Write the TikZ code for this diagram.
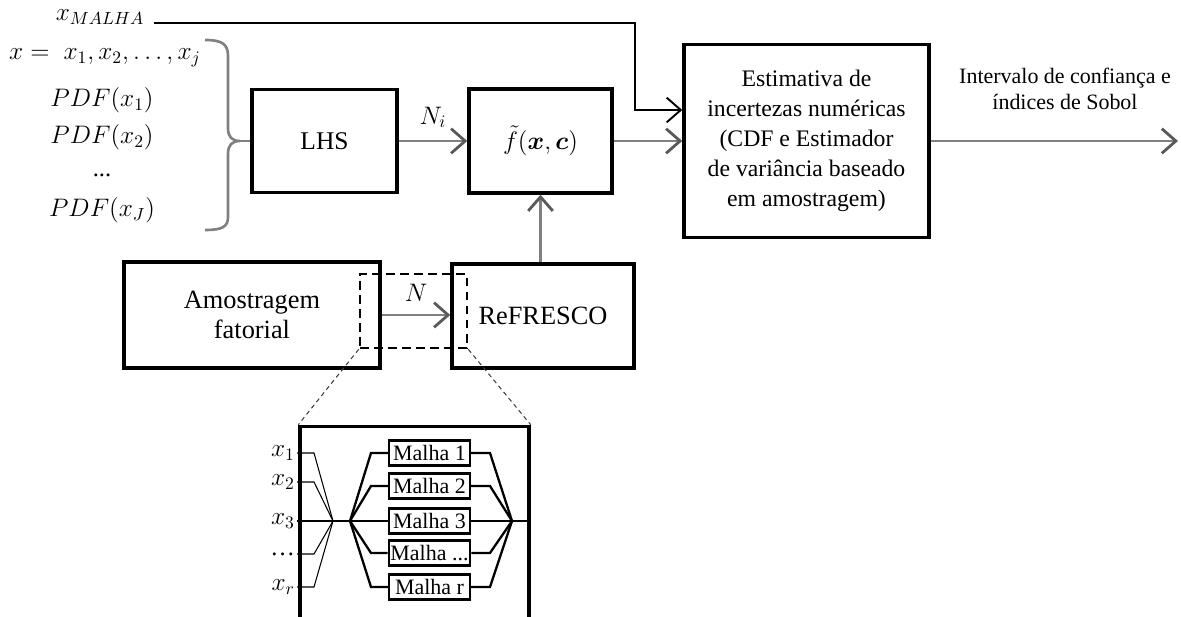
\documentclass[tikz,border=0pt]{standalone}
\usepackage{amsmath}
\usepackage{fontspec}
\setmainfont{Liberation Serif}
\usetikzlibrary{arrows.meta}

\begin{document}
\begin{tikzpicture}[x=0.02cm, y=-0.02cm,
    bloco/.style={draw, line width=2pt, align=center, inner sep=2pt,
      font=\fontsize{14.5}{17}\selectfont},
    texto/.style={font=\fontsize{14}{17}\selectfont, inner sep=1pt},
    seta/.style={draw=gray, line width=1.5pt,
      -{Straight Barb[length=8pt, width=14pt, line width=1.6pt, color=black!65]}},
    setapreta/.style={draw, line width=0.9pt,
      -{Straight Barb[length=8pt, width=14pt, line width=1.1pt]}},
    malha/.style={draw, line width=1.3pt, minimum width=1.62cm, minimum height=0.5cm,
      inner sep=1pt, font=\fontsize{12.5}{13}\selectfont},
    fio/.style={line width=1.3pt},
    fiofino/.style={line width=0.6pt},
  ]
  \useasboundingbox (0,0) rectangle (1181,617);

  % Entradas
  \node[texto] (xmalha) at (100,17) {$x_{MALHA}$};
  \node[texto] (xvec) at (105,58) {$x =\; x_1, x_2, \ldots, x_j$};
  \node[texto] (pdf1) at (102,100) {$PDF(x_1)$};
  \node[texto] (pdf2) at (102,137) {$PDF(x_2)$};
  \node[texto] (pdfdots) at (102,175) {...};
  \node[texto] (pdfJ) at (102,210) {$PDF(x_J)$};

  % Chave
  \coordinate (ponta) at (240,141);
  \draw[gray, line width=1.5pt] (205,40) .. controls (222,40) and (228,44) .. (228,56)
    -- (228,128) .. controls (228,137) and (232,141) .. (ponta)
    .. controls (232,141) and (228,145) .. (228,154)
    -- (228,217) .. controls (228,227) and (222,230) .. (205,230);

  % Blocos
  \node[bloco, minimum width=2.9cm, minimum height=2.06cm] (lhs) at (324.5,141) {LHS};
  \node[bloco, minimum width=2.86cm, minimum height=2.08cm, font=\fontsize{15}{17}\selectfont]
    (modelo) at (540.5,141) {$\tilde{f}(\boldsymbol{x},\boldsymbol{c})$};
  \node[bloco, minimum width=4.9cm, minimum height=3.86cm, font=\fontsize{13.5}{17}\selectfont]
    (estim) at (806.5,141)
    {Estimativa de\\incertezas numéricas\\(CDF e Estimador\\de variância baseado\\em amostragem)};
  \node[bloco, minimum width=5.12cm, minimum height=2.12cm, font=\fontsize{15}{17}\selectfont]
    (amost) at (252,315) {Amostragem\\fatorial};
  \node[bloco, minimum width=3.64cm, minimum height=2.08cm, font=\fontsize{15}{17}\selectfont]
    (refresco) at (543,316) {ReFRESCO};
  \node[align=center, font=\fontsize{12.5}{14.5}\selectfont] (saidatxt) at (1065,89)
    {Intervalo de confiança e\\índices de Sobol};
  \coordinate (fim) at (1178,141);

  % Ligacoes
  \draw[gray, line width=1.5pt] (ponta) -- (lhs.west);
  \draw[seta] (lhs) -- node[texto, above=0.2cm] {$N_i$} (modelo);
  \draw[seta] (modelo) -- (estim);
  \draw[seta] (estim) -- (fim);
  \draw[seta] (modelo |- refresco.north) -- (modelo.south);
  \draw[seta] (amost) -- node[texto, above=0.2cm] {$N$} (amost -| refresco.west);
  \draw[setapreta] ([xshift=0.15cm]xmalha.east |- 0,23)
    -| ([xshift=-0.94cm, yshift=0.62cm]estim.west) -- ([yshift=0.62cm]estim.west);

  % Janela tracejada e detalhe
  \node[draw, line width=1.5pt, dash pattern=on 5pt off 3pt, minimum width=2.14cm,
    minimum height=1.48cm] (janela) at (413.5,311) {};
  \node[draw, line width=2pt, minimum width=4.58cm, minimum height=3.94cm] (detalhe) at (414.5,525) {};
  \draw[line width=0.6pt, black!75, dash pattern=on 2.5pt off 2pt] (janela.south west) -- (detalhe.north west);
  \draw[line width=0.6pt, black!75, dash pattern=on 2.5pt off 2pt] (janela.south east) -- (detalhe.north east);

  % Malhas
  \coordinate (junta) at (333,521);
  \coordinate (hub) at (350,521);
  \coordinate (sai) at (512,521);
  \foreach \i/\t/\y in {1/{$x_1$}/453, 2/{$x_2$}/482, 3/{$x_3$}/521, 4/{\ldots}/554, 5/{$x_r$}/587} {
    \node[font=\fontsize{14}{15}\selectfont, anchor=east, inner sep=1pt] (ent\i) at (297,\y) {\t};
    \draw[fiofino] (ent\i.east) -- ++(17,0) -- (junta);
  }
  \draw[fio] (junta) -- (hub);
  \foreach \i/\t/\y in {1/1/453, 2/2/486, 3/3/521, 4/{..\kern0pt.}/553, 5/r/587} {
    \node[malha] (m\i) at (429.5,\y) {Malha \t};
    \draw[fio] (hub) -- (371,\y) -- (m\i.west);
    \draw[fio] (m\i.east) -- (490,\y) -- (sai);
  }
  \draw[fiofino] (sai) -- (sai -| detalhe.east);
\end{tikzpicture}
\end{document}
